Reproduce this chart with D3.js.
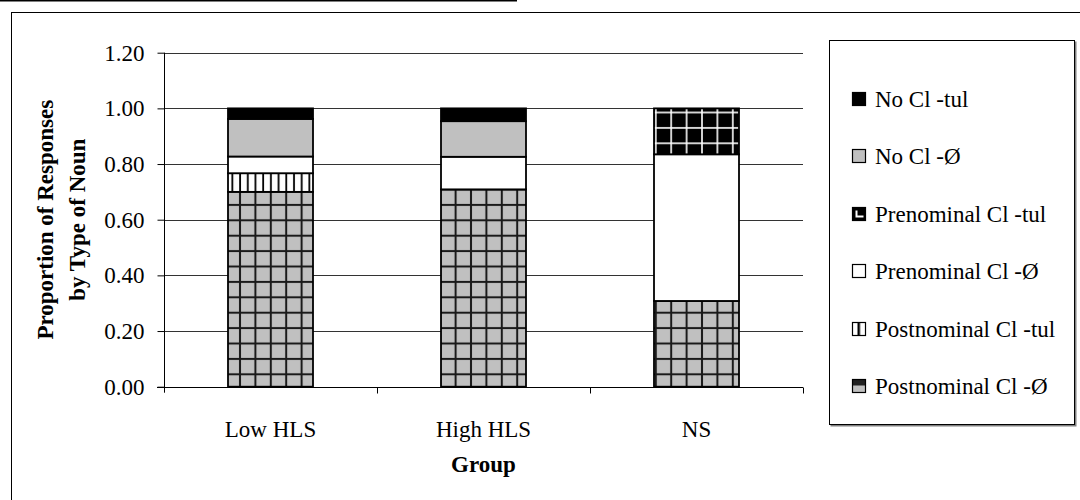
<!DOCTYPE html>
<html><head><meta charset="utf-8">
<script src="https://cdn.jsdelivr.net/npm/d3@7"></script>
<style>body{margin:0;background:#fff}svg{display:block}text{font-family:"Liberation Serif","Times New Roman",serif;fill:#000}</style>
</head><body>
<svg id="c" width="1080" height="500"></svg>
<script>
const groups = ["Low HLS", "High HLS", "NS"];
const seriesNames = ["Postnominal Cl -Ø", "Postnominal Cl -tul", "Prenominal Cl -Ø", "Prenominal Cl -tul", "No Cl -Ø", "No Cl -tul"];
const postnominalZero = [0.70, 0.709, 0.308];
const postnominalTul  = [0.067, 0.0, 0.0];
const prenominalZero  = [0.06, 0.117, 0.527];
const prenominalTul   = [0.0, 0.0, 0.165];
const noClZero        = [0.135, 0.128, 0.0];
const noClTul         = [0.038, 0.046, 0.0];
const yTicks = [0, 0.2, 0.4, 0.6, 0.8, 1.0, 1.2];
const legendOrder = ["No Cl -tul", "No Cl -Ø", "Prenominal Cl -tul", "Prenominal Cl -Ø", "Postnominal Cl -tul", "Postnominal Cl -Ø"];

const seriesValues = [postnominalZero, postnominalTul, prenominalZero, prenominalTul, noClZero, noClTul];
const fills = ["url(#pGrid)", "url(#pVert)", "#ffffff", "url(#pBlackGrid)", "#c0c0c0", "#000000"];
const swFills = ["url(#sGrid)", "url(#sVert)", "#ffffff", "url(#sBlackGrid)", "#c0c0c0", "#000000"];
const FS = "23px";

const svg = d3.select("#c");
const defs = svg.append("defs");
const P = 15.4;
let p = defs.append("pattern").attr("id","pGrid").attr("patternUnits","userSpaceOnUse")
  .attr("x",240).attr("y",374.3).attr("width",P).attr("height",P);
p.append("rect").attr("width",P).attr("height",P).attr("fill","#c0c0c0");
[[-1,0,2,P],[P-1,0,2,P],[0,-1,P,2],[0,P-1,P,2]].forEach(r=>
  p.append("rect").attr("x",r[0]).attr("y",r[1]).attr("width",r[2]).attr("height",r[3]).attr("fill","#1a1a1a"));
p = defs.append("pattern").attr("id","pVert").attr("patternUnits","userSpaceOnUse")
  .attr("x",240).attr("y",0).attr("width",P/2).attr("height",10);
p.append("rect").attr("width",P/2).attr("height",10).attr("fill","#fff");
p.append("rect").attr("x",-0.8).attr("width",1.8).attr("height",10).attr("fill","#000");
p.append("rect").attr("x",P/2-0.8).attr("width",1.8).attr("height",10).attr("fill","#000");
p = defs.append("pattern").attr("id","pBlackGrid").attr("patternUnits","userSpaceOnUse")
  .attr("x",240).attr("y",374.3).attr("width",P).attr("height",P);
p.append("rect").attr("width",P).attr("height",P).attr("fill","#000");
[[-0.8,0,1.6,P],[P-0.8,0,1.6,P],[0,-0.8,P,1.6],[0,P-0.8,P,1.6]].forEach(r=>
  p.append("rect").attr("x",r[0]).attr("y",r[1]).attr("width",r[2]).attr("height",r[3]).attr("fill","#fff"));
p = defs.append("pattern").attr("id","sGrid").attr("patternUnits","userSpaceOnUse").attr("width",13).attr("height",13);
p.append("rect").attr("width",13).attr("height",13).attr("fill","#c0c0c0");
p.append("rect").attr("width",13).attr("height",6).attr("fill","#222");
p = defs.append("pattern").attr("id","sVert").attr("patternUnits","userSpaceOnUse").attr("width",13).attr("height",13);
p.append("rect").attr("width",13).attr("height",13).attr("fill","#fff");
p.append("rect").attr("x",5).attr("width",2.5).attr("height",13).attr("fill","#000");
p = defs.append("pattern").attr("id","sBlackGrid").attr("patternUnits","userSpaceOnUse").attr("width",13).attr("height",13);
p.append("rect").attr("width",13).attr("height",13).attr("fill","#000");
p.append("rect").attr("x",3).attr("y",3).attr("width",2).attr("height",7).attr("fill","#fff");
p.append("rect").attr("x",3).attr("y",8).attr("width",8).attr("height",2).attr("fill","#fff");

svg.append("line").attr("x1",0).attr("x2",517).attr("y1",0.5).attr("y2",0.5).attr("stroke","#000").attr("stroke-width",2);
svg.append("rect").attr("x",11.5).attr("y",12.5).attr("width",1200).attr("height",700)
  .attr("fill","none").attr("stroke","#000").attr("stroke-width",1);

const plot = {left:164, right:803, top:52.7, bottom:386.7};
const xb = d3.scaleBand().domain(groups).range([plot.left, plot.right]);
const y = d3.scaleLinear().domain([0,1.2]).range([plot.bottom, plot.top]);

svg.append("g").selectAll("line").data(yTicks.filter(t=>t>0)).join("line")
  .attr("x1",plot.left).attr("x2",plot.right)
  .attr("y1",d=>Math.round(y(d))+0.5).attr("y2",d=>Math.round(y(d))+0.5)
  .attr("stroke","#333").attr("stroke-width",1);

const stackData = groups.map((g,i)=>{const o={group:g}; seriesNames.forEach((s,j)=>o[s]=seriesValues[j][i]); return o;});
const stacked = d3.stack().keys(seriesNames)(stackData);
const barW = 85;
stacked.forEach((layer,j)=>{
  svg.append("g").selectAll("rect").data(layer.filter(d=>d[1]-d[0]>0)).join("rect")
    .attr("x",d=>xb(d.data.group)+xb.bandwidth()/2-barW/2)
    .attr("width",barW)
    .attr("y",d=>y(d[1]))
    .attr("height",d=>y(d[0])-y(d[1]))
    .attr("fill",fills[j]).attr("stroke","#000").attr("stroke-width",1.8);
});

const ya = svg.append("g").attr("transform",`translate(${plot.left+0.5},0)`)
  .call(d3.axisLeft(y).tickValues(yTicks).tickFormat(d3.format(".2f")).tickSize(7).tickPadding(13));
ya.select(".domain").attr("stroke","#000").attr("d",`M0,${plot.top}V${plot.bottom+6}`);
ya.selectAll(".tick line").attr("stroke","#000");
ya.selectAll(".tick text").style("font-size",FS).style("font-family","Liberation Serif");

const xa = svg.append("g").attr("transform",`translate(0,${Math.round(plot.bottom)+0.5})`);
xa.append("line").attr("x1",plot.left-7).attr("x2",plot.right).attr("stroke","#000");
xa.selectAll(".tk").data(groups.map(g=>xb(g)+xb.bandwidth()).slice(0,-1).concat([plot.right])).join("line")
  .attr("x1",d=>Math.round(d)+0.5).attr("x2",d=>Math.round(d)+0.5).attr("y1",0).attr("y2",6).attr("stroke","#000");
xa.selectAll("text").data(groups).join("text")
  .attr("x",d=>xb(d)+xb.bandwidth()/2).attr("y",49).attr("text-anchor","middle")
  .style("font-size",FS).text(d=>d);

svg.append("text").attr("x",(plot.left+plot.right)/2).attr("y",472).attr("text-anchor","middle")
  .style("font-size",FS).style("font-weight","bold").text("Group");
const yt = svg.append("text").attr("transform",`translate(0,${(plot.top+plot.bottom)/2}) rotate(-90)`)
  .attr("text-anchor","middle").style("font-size",FS).style("font-weight","bold");
yt.append("tspan").attr("x",0).attr("y",53).text("Proportion of Responses");
yt.append("tspan").attr("x",0).attr("y",85).text("by Type of Noun");

const lg = svg.append("g");
lg.append("rect").attr("x",830.5).attr("y",41.5).attr("width",246).attr("height",385).attr("fill","#808080");
lg.append("rect").attr("x",829.5).attr("y",40.5).attr("width",245).attr("height",384).attr("fill","#fff").attr("stroke","#000");
const ly = d3.scalePoint().domain(legendOrder).range([99, 386]);
const items = lg.selectAll(".it").data(legendOrder).join("g")
  .attr("transform",d=>`translate(852.5,${Math.round(ly(d))-6.5})`);
items.append("rect").attr("width",13).attr("height",13)
  .attr("fill",d=>swFills[seriesNames.indexOf(d)]).attr("stroke","#000").attr("stroke-width",1.2);
items.append("text").attr("x",22.5).attr("y",14).style("font-size",FS).text(d=>d);
</script>
</body></html>
